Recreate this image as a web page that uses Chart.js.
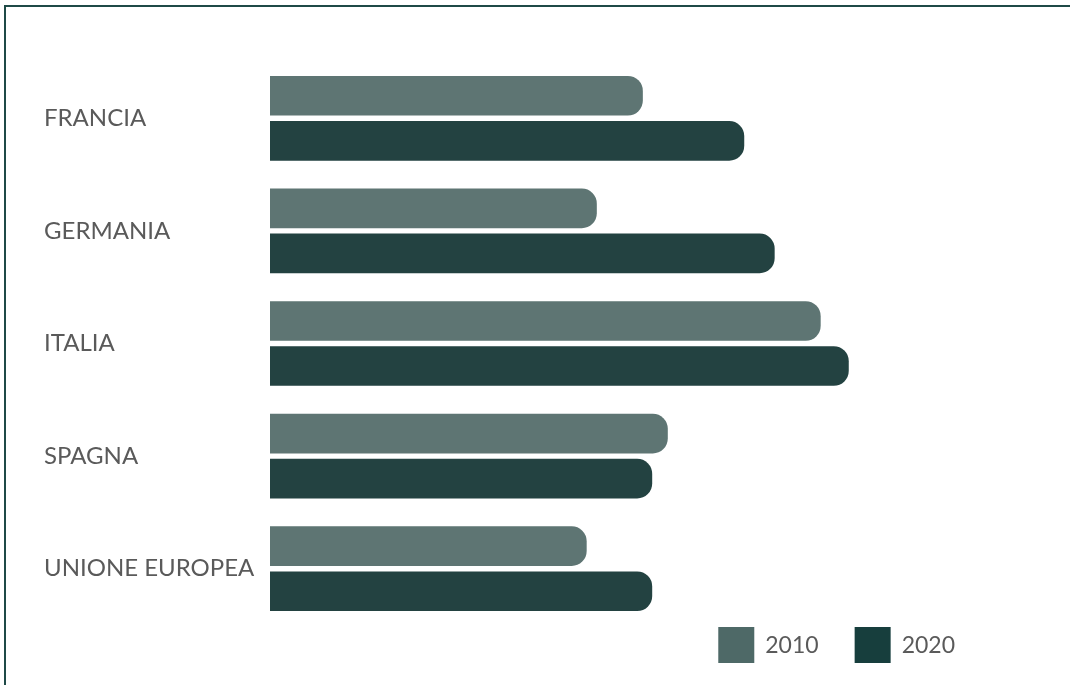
<!DOCTYPE html>
<html>
<head>
<meta charset="utf-8">
<script src="https://cdn.jsdelivr.net/npm/chart.js@4/dist/chart.umd.min.js"></script>
<style>
  html, body { margin: 0; padding: 0; background: #fff; }
  #wrap { position: relative; width: 1070px; height: 685px; overflow: hidden; }
  #frame {
    position: absolute; left: 4px; top: 5px; right: -10px; bottom: -10px;
    border-top: 2px solid #1f4a47; border-left: 2px solid #1f4a47;
    pointer-events: none;
  }
  canvas { position: absolute; left: 0; top: 0; }
</style>
</head>
<body>
<div id="wrap">
  <canvas id="chart" width="1070" height="685"></canvas>
  <div id="frame"></div>
</div>
<script>
// Categories and series (relative scale 0-100)
const countries = ['FRANCIA', 'GERMANIA', 'ITALIA', 'SPAGNA', 'UNIONE EUROPEA'];
const values2010 = [47.8, 41.9, 70.6, 51.0, 40.6];
const values2020 = [60.8, 64.7, 74.2, 49.0, 49.0];
const seriesLabels = ['2010', '2020'];

const barColors = ['#5e7573', '#234241'];
const legendColors = ['#4e6967', '#173e3d'];
const textColor = '#5a5a5a';
const fontFamily = 'Lato, "Open Sans", sans-serif';

// Legend drawn on the canvas, right-aligned below the bars
const boxLegend = {
    id: 'boxLegend',
    afterDraw(chart) {
        const ctx = chart.ctx;
        const box = 36, gap = 11, spacing = 36;
        const right = 955, midY = 645;
        ctx.save();
        ctx.font = '23px ' + fontFamily;
        ctx.textBaseline = 'middle';
        ctx.textAlign = 'left';
        const widths = chart.data.datasets.map(ds => box + gap + ctx.measureText(ds.label).width);
        let x = right - widths.reduce((a, b) => a + b, 0) - spacing * (widths.length - 1);
        chart.data.datasets.forEach((ds, i) => {
            ctx.fillStyle = legendColors[i];
            ctx.fillRect(x, midY - box / 2, box, box);
            ctx.fillStyle = textColor;
            ctx.fillText(ds.label, x + box + gap, midY + 1);
            x += widths[i] + spacing;
        });
        ctx.restore();
    }
};

new Chart(document.getElementById('chart').getContext('2d'), {
    type: 'bar',
    data: {
        labels: countries,
        datasets: [values2010, values2020].map((vals, i) => ({
            label: seriesLabels[i],
            data: vals,
            backgroundColor: barColors[i],
            borderWidth: 0,
            borderRadius: 15,
            borderSkipped: 'start',
            categoryPercentage: 0.8,
            barPercentage: 0.88
        }))
    },
    options: {
        indexAxis: 'y',
        responsive: false,
        animation: false,
        layout: { padding: { left: 44, top: 62, right: 20, bottom: 60 } },
        plugins: {
            legend: { display: false },
            tooltip: { enabled: false }
        },
        scales: {
            x: { display: false, min: 0, max: 100 },
            y: {
                grid: { display: false },
                border: { display: false },
                afterFit(scale) { scale.width = 226; },
                ticks: {
                    crossAlign: 'far',
                    color: textColor,
                    font: { family: fontFamily, size: 24 }
                }
            }
        }
    },
    plugins: [boxLegend]
});
</script>
</body>
</html>
